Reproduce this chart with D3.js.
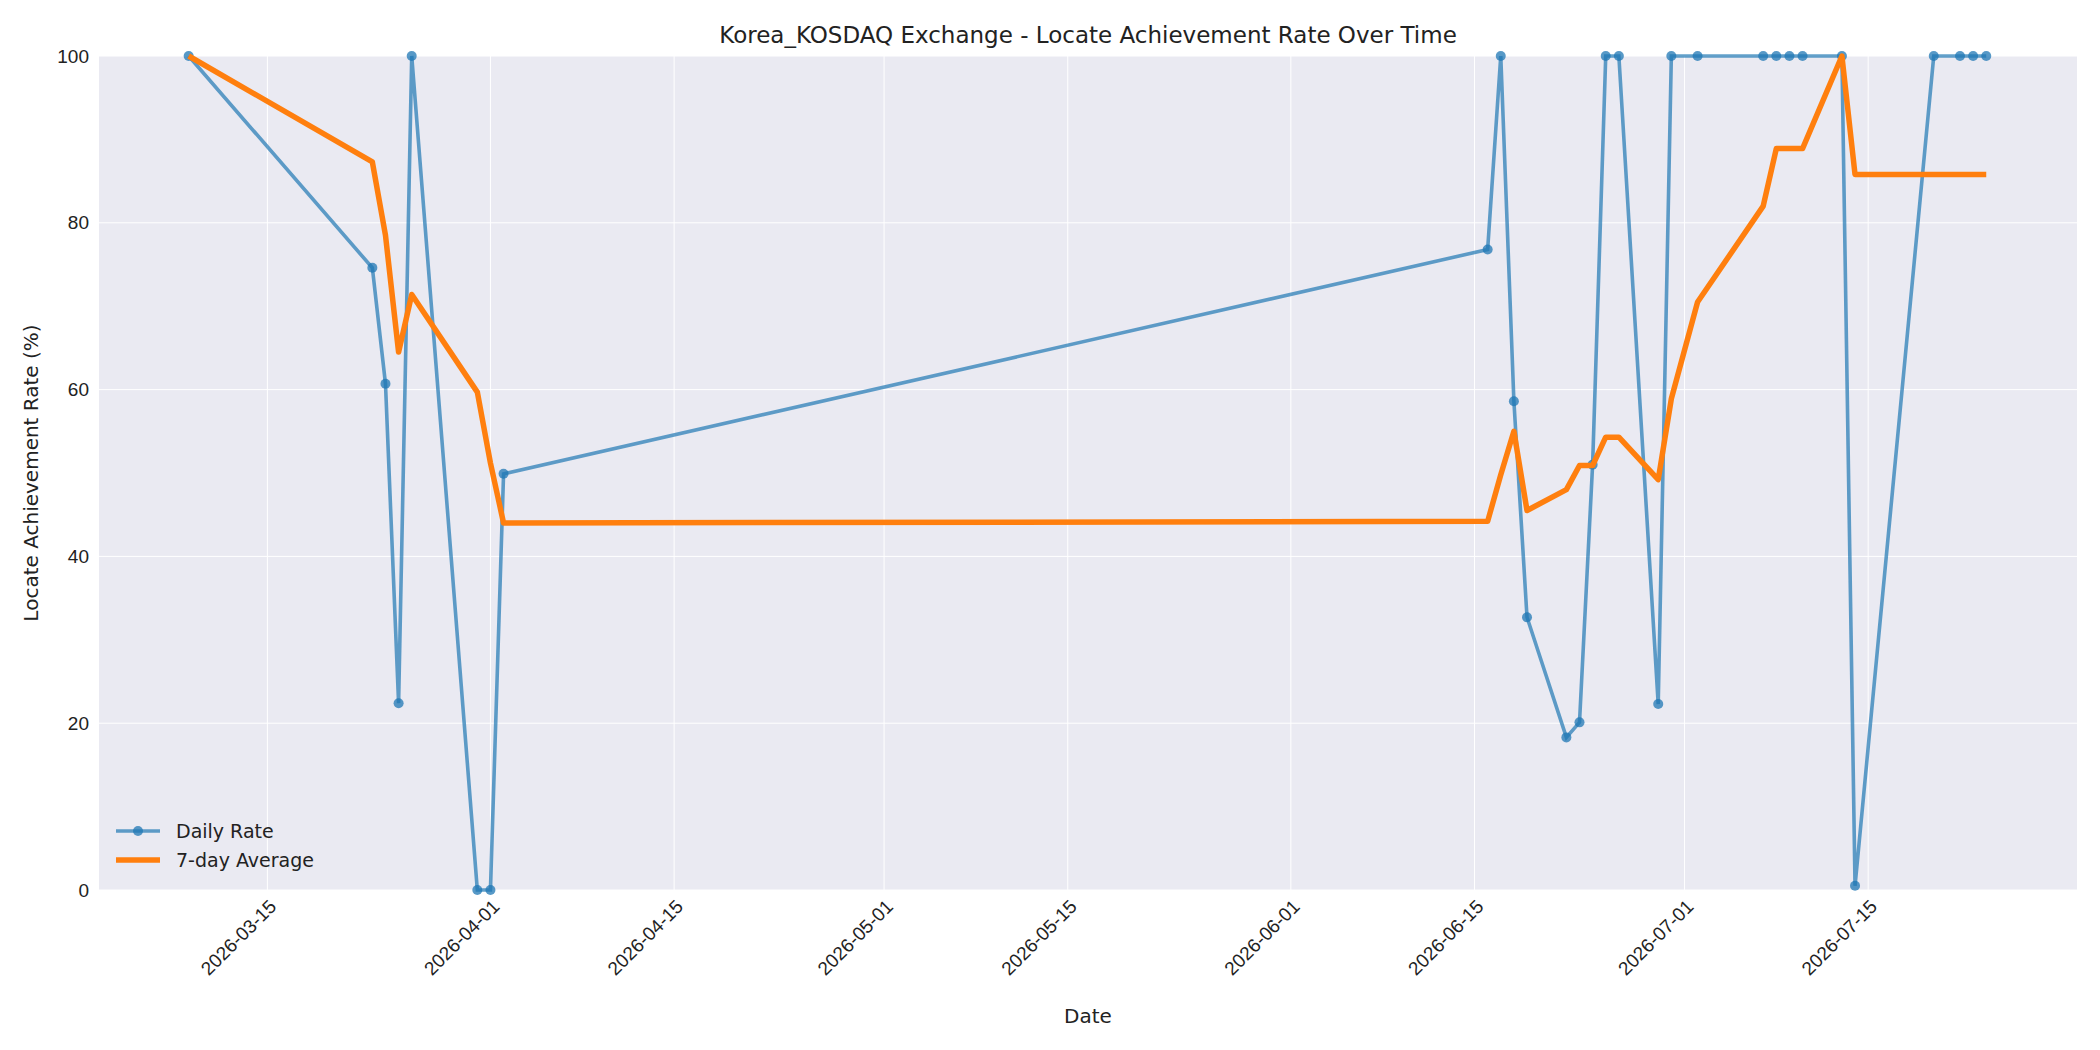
<!DOCTYPE html>
<html><head><meta charset="utf-8">
<script src="https://cdn.jsdelivr.net/npm/d3@7"></script>
<style>body{margin:0;background:#fff;font-family:"DejaVu Sans",sans-serif;}</style>
</head><body><svg id="c" width="2100" height="1050"></svg>
<script>
const dates = ["2026-03-09","2026-03-23","2026-03-24","2026-03-25","2026-03-26","2026-03-31","2026-04-01","2026-04-02","2026-06-16","2026-06-17","2026-06-18","2026-06-19","2026-06-22","2026-06-23","2026-06-24","2026-06-25","2026-06-26","2026-06-29","2026-06-30","2026-07-02","2026-07-07","2026-07-08","2026-07-09","2026-07-10","2026-07-13","2026-07-14","2026-07-20","2026-07-22","2026-07-23","2026-07-24"];
const daily = [100,74.6,60.7,22.4,100,0,0,49.9,76.8,100,58.6,32.7,18.3,20.1,51.0,100,100,22.3,100,100,100,100,100,100,100,0.5,100,100,100,100];
const avg7 = [100,87.3,78.5,64.5,71.4,59.7,51.2,44.0,44.2,49.8,55.0,45.5,48.0,50.9,50.9,54.3,54.3,49.2,58.9,70.5,82.0,88.9,88.9,88.9,100,85.8,85.8,85.8,85.8,85.8];
const tickDates = ["2026-03-15","2026-04-01","2026-04-15","2026-05-01","2026-05-15","2026-06-01","2026-06-15","2026-07-01","2026-07-15"];
const yTicks = [0,20,40,60,80,100];

const p = d3.timeParse("%Y-%m-%d");
const svg = d3.select("#c");
const L=99,R=2077,T=56,B=890;
const x = d3.scaleTime().domain([new Date(2026,2,2,4), new Date(2026,6,30,22)]).range([L,R]);
const y = d3.scaleLinear().domain([0,100]).range([B,T]);
svg.append("rect").attr("x",L).attr("y",T).attr("width",R-L).attr("height",B-T).attr("fill","#eaeaf2");
const g = svg.append("g");
tickDates.forEach(t=>g.append("line").attr("x1",x(p(t))).attr("x2",x(p(t))).attr("y1",T).attr("y2",B).attr("stroke","#fff").attr("stroke-width",1));
yTicks.forEach(t=>g.append("line").attr("x1",L).attr("x2",R).attr("y1",y(t)).attr("y2",y(t)).attr("stroke","#fff").attr("stroke-width",1));
const xa = svg.append("g").attr("transform",`translate(0,${B})`).call(d3.axisBottom(x).tickValues(tickDates.map(p)).tickFormat(d3.timeFormat("%Y-%m-%d")).tickSize(0).tickPadding(8));
xa.select(".domain").remove();
xa.selectAll("text").attr("font-size",19).attr("fill","#222").attr("text-anchor","end").attr("transform","rotate(-45)").attr("dx","-0.3em").attr("dy","0.6em");
const ya = svg.append("g").attr("transform",`translate(${L},0)`).call(d3.axisLeft(y).tickValues(yTicks).tickSize(0).tickPadding(10));
ya.select(".domain").remove();
ya.selectAll("text").attr("font-size",19).attr("fill","#222");
const pts = dates.map((d,i)=>({d:p(d),v:daily[i],a:avg7[i]}));
svg.append("path").datum(pts).attr("fill","none").attr("stroke","#1f77b4").attr("stroke-opacity",0.7).attr("stroke-width",3.6)
  .attr("d",d3.line().x(d=>x(d.d)).y(d=>y(d.v)));
svg.selectAll("circle.d").data(pts).join("circle").attr("cx",d=>x(d.d)).attr("cy",d=>y(d.v)).attr("r",5).attr("fill","#1f77b4").attr("fill-opacity",0.75);
svg.append("path").datum(pts).attr("fill","none").attr("stroke","#ff7f0e").attr("stroke-width",5.5).attr("stroke-linejoin","round")
  .attr("d",d3.line().x(d=>x(d.d)).y(d=>y(d.a)));
svg.append("text").attr("x",(L+R)/2).attr("y",43).attr("text-anchor","middle").attr("font-size",23).attr("fill","#222").text("Korea_KOSDAQ Exchange - Locate Achievement Rate Over Time");
svg.append("text").attr("x",(L+R)/2).attr("y",1023).attr("text-anchor","middle").attr("font-size",20).attr("fill","#222").text("Date");
svg.append("text").attr("transform",`translate(38,${(T+B)/2}) rotate(-90)`).attr("text-anchor","middle").attr("font-size",20).attr("fill","#222").text("Locate Achievement Rate (%)");
const lg = svg.append("g");
lg.append("line").attr("x1",116).attr("x2",160).attr("y1",831).attr("y2",831).attr("stroke","#1f77b4").attr("stroke-opacity",0.7).attr("stroke-width",3.6);
lg.append("circle").attr("cx",138).attr("cy",831).attr("r",5).attr("fill","#1f77b4").attr("fill-opacity",0.75);
lg.append("text").attr("x",176).attr("y",838).attr("font-size",19).attr("fill","#222").text("Daily Rate");
lg.append("line").attr("x1",116).attr("x2",160).attr("y1",860).attr("y2",860).attr("stroke","#ff7f0e").attr("stroke-width",5.5);
lg.append("text").attr("x",176).attr("y",867).attr("font-size",19).attr("fill","#222").text("7-day Average");
</script></body></html>
